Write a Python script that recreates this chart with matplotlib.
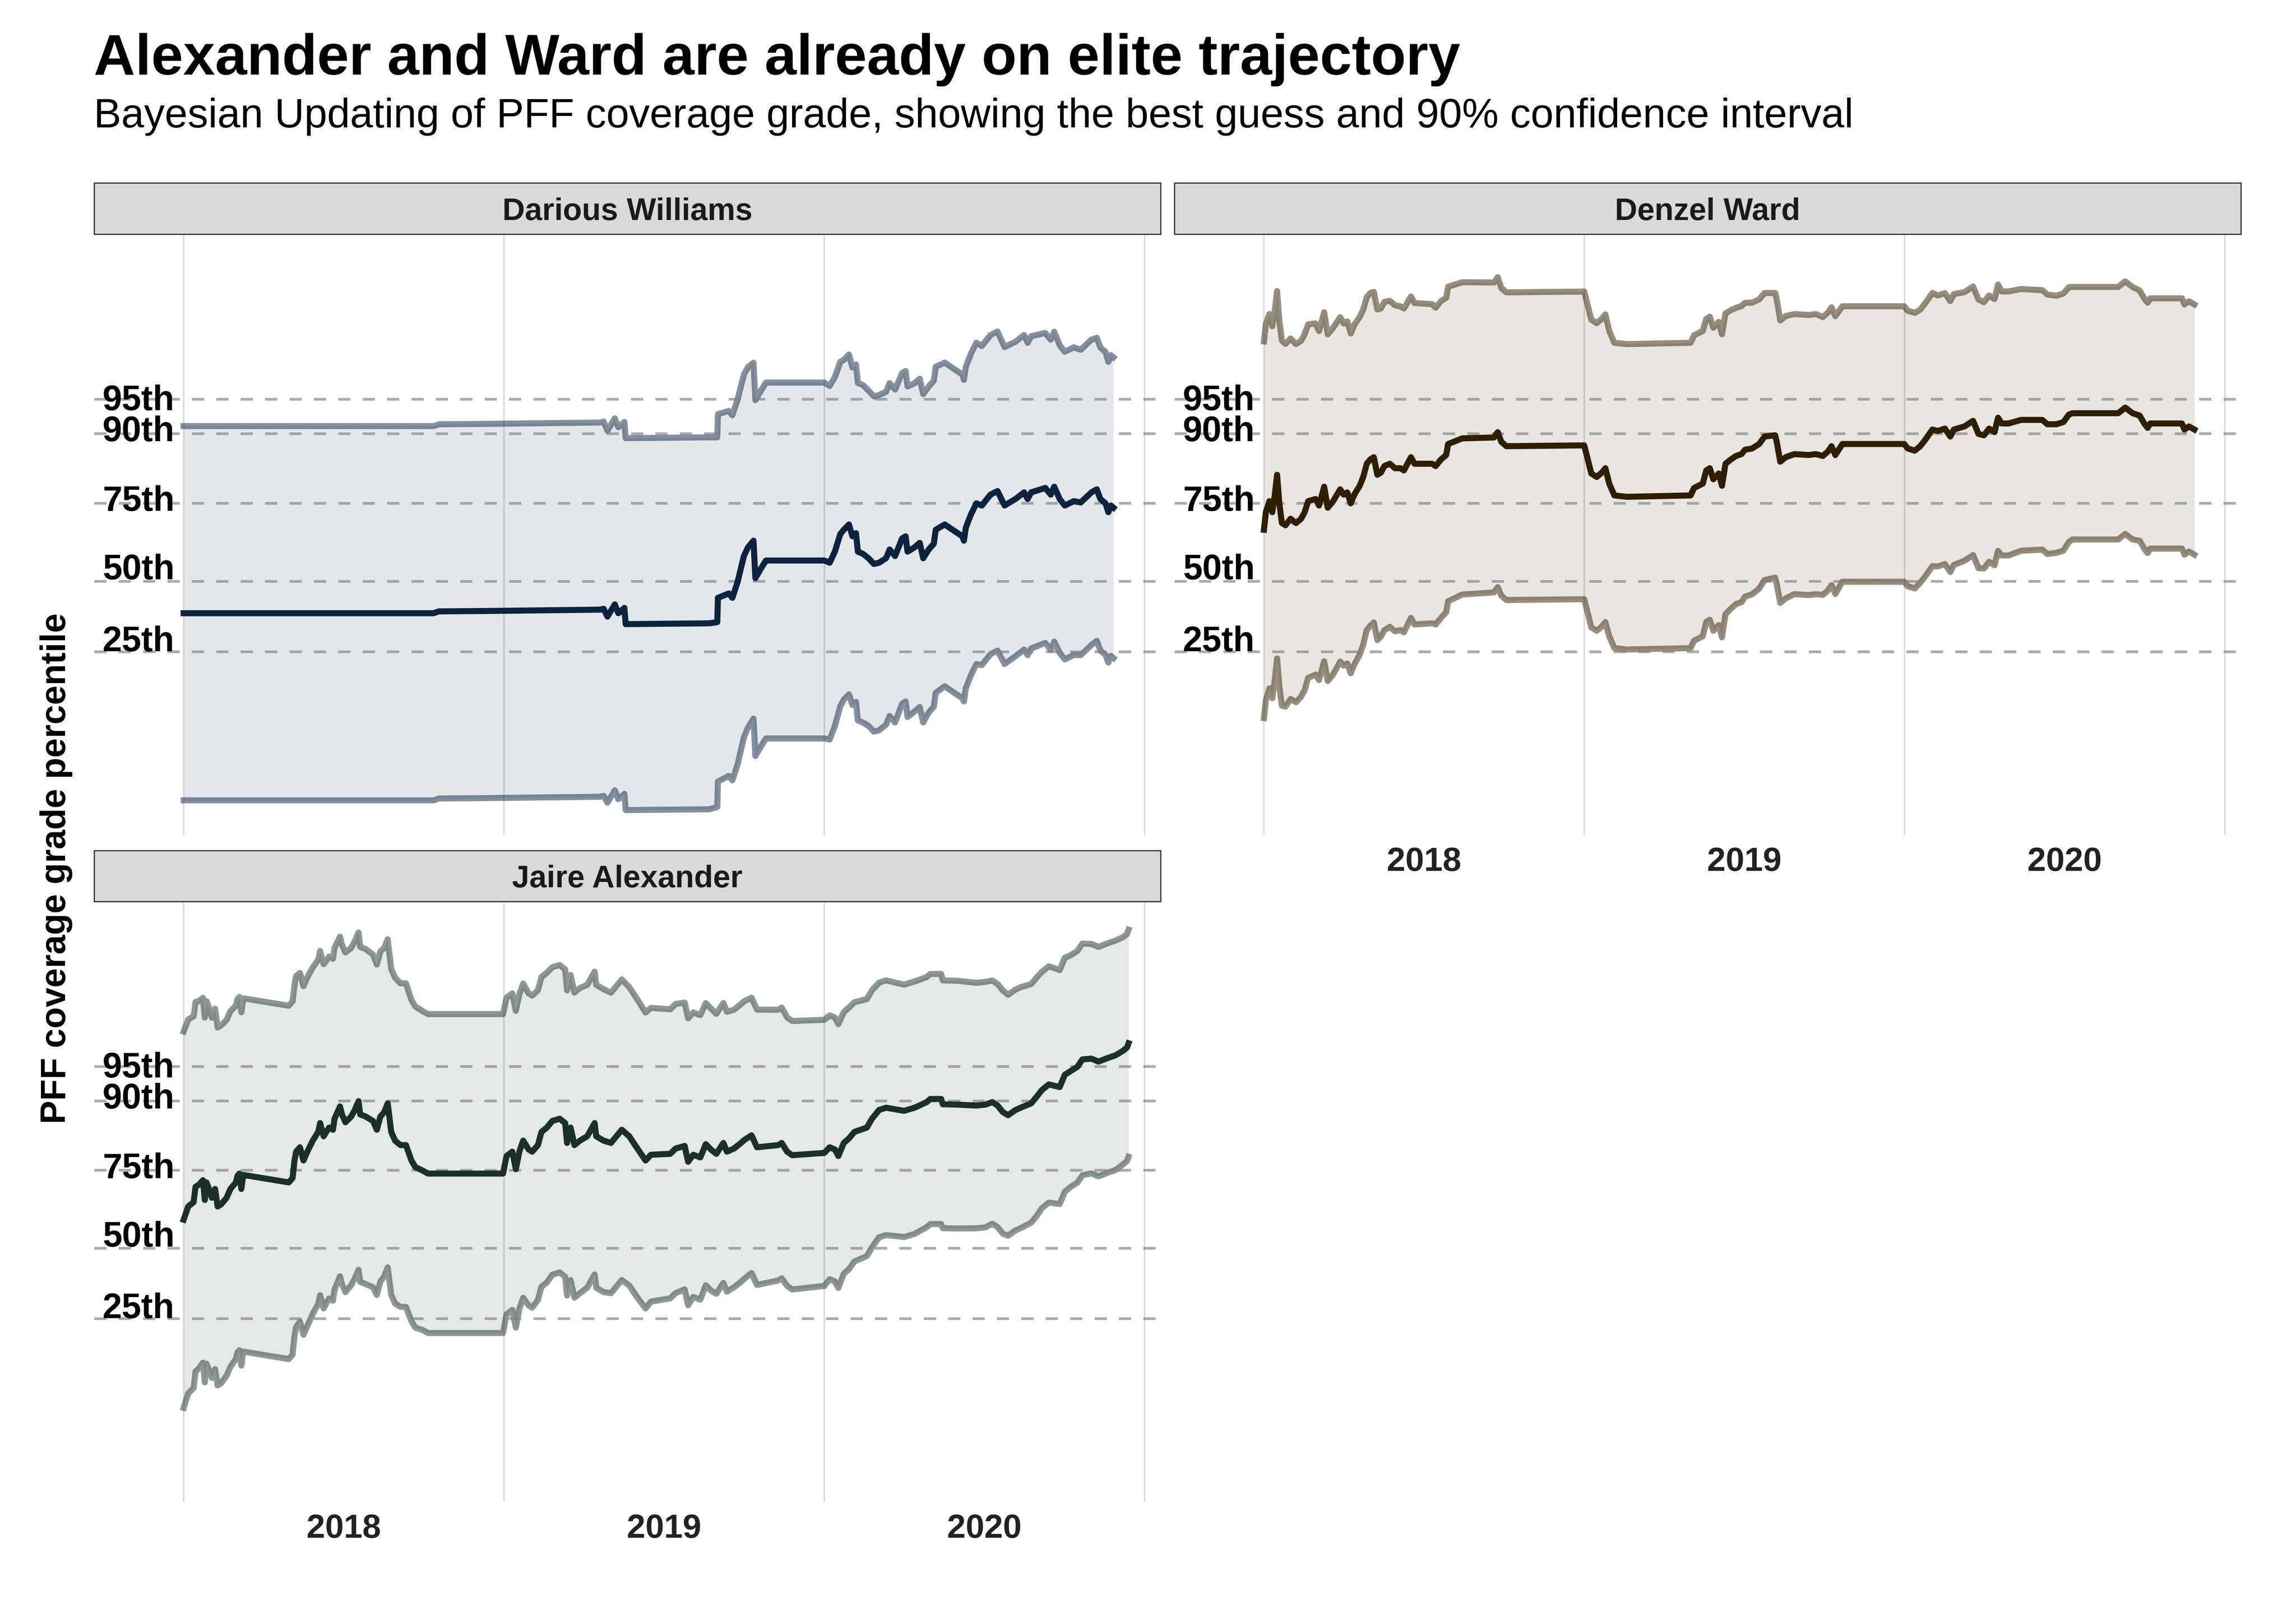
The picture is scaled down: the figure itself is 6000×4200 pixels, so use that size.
import matplotlib
matplotlib.use("Agg")
import matplotlib.pyplot as plt
import numpy as np

plt.rcParams['font.family'] = ['Liberation Sans', 'DejaVu Sans']

# x = season position (gridlines between seasons), y = PFF coverage grade
williams_x = [2017.500, 2018.280, 2018.297, 2018.432, 2018.800, 2018.811, 2018.823, 2018.846, 2018.857, 2018.876,
              2018.880, 2019.141, 2019.166, 2019.168, 2019.202, 2019.213, 2019.229, 2019.249, 2019.262, 2019.279,
              2019.285, 2019.301, 2019.318, 2019.500, 2019.517, 2019.533, 2019.550, 2019.561, 2019.577, 2019.588,
              2019.599, 2019.605, 2019.621, 2019.638, 2019.655, 2019.671, 2019.693, 2019.704, 2019.721, 2019.743,
              2019.754, 2019.760, 2019.782, 2019.798, 2019.809, 2019.826, 2019.842, 2019.848, 2019.876, 2019.931,
              2019.936, 2019.942, 2019.958, 2019.975, 2019.992, 2020.008, 2020.019, 2020.041, 2020.063, 2020.097,
              2020.124, 2020.135, 2020.146, 2020.190, 2020.207, 2020.218, 2020.235, 2020.251, 2020.279, 2020.301,
              2020.334, 2020.351, 2020.362, 2020.378, 2020.387, 2020.395, 2020.403]
williams_mean = [61.98, 61.98, 62.14, 62.17, 62.29, 62.37, 61.68, 62.75, 61.98, 62.44,
                 61.03, 61.10, 61.20, 63.32, 63.70, 63.32, 64.66, 66.96, 67.72, 68.30,
                 65.04, 65.81, 66.57, 66.57, 66.38, 67.34, 68.87, 69.25, 69.71, 68.68,
                 68.95, 67.34, 67.15, 66.77, 66.27, 66.38, 66.77, 67.53, 66.96, 68.49,
                 68.68, 67.34, 67.72, 68.11, 66.77, 67.53, 68.03, 69.25, 69.71, 68.68,
                 68.30, 69.44, 70.59, 71.55, 71.36, 71.93, 72.31, 72.62, 71.36, 71.93,
                 72.51, 71.93, 72.51, 72.89, 72.31, 73.00, 71.93, 71.36, 71.74, 71.63,
                 72.51, 72.77, 71.93, 71.55, 70.78, 71.36, 71.17]
williams_half = [16.3, 16.3, 16.3, 16.3, 16.3, 16.3, 16.2, 16.2, 16.2, 16.2,
                 16.2, 16.2, 16.1, 16.0, 15.9, 15.9, 15.9, 15.8, 15.7, 15.5,
                 15.5, 15.5, 15.5, 15.5, 15.4, 15.2, 15.0, 14.8, 14.8, 14.7,
                 14.7, 14.7, 14.7, 14.6, 14.6, 14.6, 14.5, 14.5, 14.5, 14.4,
                 14.4, 14.4, 14.3, 14.3, 14.3, 14.2, 14.2, 14.2, 14.1, 14.1,
                 14.0, 14.0, 14.0, 14.0, 13.9, 13.9, 13.9, 13.9, 13.8, 13.7,
                 13.7, 13.6, 13.6, 13.5, 13.5, 13.5, 13.4, 13.4, 13.4, 13.3,
                 13.3, 13.2, 13.2, 13.2, 13.1, 13.1, 13.1]

ward_x = [2017.500, 2017.506, 2017.517, 2017.526, 2017.534, 2017.541, 2017.548, 2017.556, 2017.567, 2017.583,
          2017.600, 2017.616, 2017.627, 2017.638, 2017.661, 2017.672, 2017.688, 2017.699, 2017.716, 2017.738,
          2017.749, 2017.760, 2017.771, 2017.782, 2017.799, 2017.810, 2017.821, 2017.832, 2017.843, 2017.854,
          2017.865, 2017.876, 2017.893, 2017.909, 2017.926, 2017.937, 2017.959, 2017.970, 2018.025, 2018.036,
          2018.053, 2018.069, 2018.075, 2018.119, 2018.218, 2018.230, 2018.241, 2018.257, 2018.500, 2018.511,
          2018.522, 2018.539, 2018.555, 2018.566, 2018.578, 2018.594, 2018.633, 2018.832, 2018.843, 2018.870,
          2018.881, 2018.892, 2018.903, 2018.920, 2018.930, 2018.941, 2018.958, 2018.974, 2018.991, 2019.002,
          2019.024, 2019.046, 2019.063, 2019.096, 2019.101, 2019.112, 2019.129, 2019.156, 2019.201, 2019.223,
          2019.245, 2019.261, 2019.272, 2019.284, 2019.306, 2019.499, 2019.510, 2019.532, 2019.549, 2019.565,
          2019.587, 2019.604, 2019.626, 2019.643, 2019.654, 2019.687, 2019.714, 2019.731, 2019.748, 2019.764,
          2019.781, 2019.792, 2019.803, 2019.825, 2019.864, 2019.930, 2019.946, 2019.974, 2019.996, 2020.013,
          2020.024, 2020.167, 2020.189, 2020.212, 2020.234, 2020.250, 2020.259, 2020.267, 2020.366, 2020.374,
          2020.388, 2020.405]
ward_mean = [69.25, 70.78, 71.74, 70.78, 72.31, 74.04, 71.55, 69.83, 69.64, 70.21,
             69.83, 70.21, 70.78, 71.74, 71.93, 71.36, 73.00, 71.17, 71.74, 72.77,
             72.31, 72.50, 71.55, 72.31, 73.08, 73.85, 75.00, 75.38, 75.57, 74.04,
             74.23, 74.80, 75.00, 74.61, 74.61, 74.42, 75.57, 75.00, 75.00, 74.80,
             75.38, 75.76, 76.72, 77.21, 77.29, 77.75, 76.91, 76.53, 76.60, 75.38,
             74.15, 73.85, 74.23, 74.61, 73.27, 72.24, 72.12, 72.24, 72.89, 73.27,
             74.42, 74.61, 73.65, 74.15, 73.08, 75.00, 75.38, 75.68, 75.84, 76.22,
             76.33, 76.72, 77.37, 77.48, 76.91, 75.18, 75.57, 75.84, 75.76, 75.84,
             75.68, 76.07, 76.53, 75.76, 76.72, 76.72, 76.33, 76.14, 76.53, 77.10,
             77.98, 77.86, 78.06, 77.37, 77.98, 78.25, 78.74, 77.60, 77.48, 78.06,
             77.75, 79.01, 78.51, 78.51, 78.82, 78.82, 78.44, 78.44, 78.63, 79.28,
             79.40, 79.40, 79.89, 79.40, 79.20, 78.44, 78.13, 78.51, 78.51, 77.98,
             78.25, 77.98]
ward_half = [16.4, 16.4, 16.3, 16.2, 16.1, 16.0, 15.9, 15.9, 15.8, 15.7,
             15.6, 15.5, 15.5, 15.4, 15.3, 15.2, 15.2, 15.1, 15.1, 15.0,
             14.9, 14.9, 14.8, 14.8, 14.7, 14.6, 14.5, 14.5, 14.4, 14.4,
             14.3, 14.3, 14.2, 14.2, 14.1, 14.1, 14.0, 14.0, 13.9, 13.8,
             13.8, 13.7, 13.7, 13.6, 13.5, 13.5, 13.4, 13.4, 13.4, 13.4,
             13.4, 13.4, 13.4, 13.4, 13.3, 13.3, 13.3, 13.3, 13.3, 13.3,
             13.2, 13.2, 13.2, 13.2, 13.2, 13.1, 13.0, 12.9, 12.9, 12.8,
             12.7, 12.6, 12.5, 12.4, 12.4, 12.3, 12.3, 12.2, 12.2, 12.2,
             12.1, 12.1, 12.1, 12.1, 12.0, 12.0, 12.0, 12.0, 11.9, 11.9,
             11.9, 11.8, 11.8, 11.8, 11.8, 11.7, 11.7, 11.7, 11.6, 11.6,
             11.6, 11.6, 11.5, 11.5, 11.4, 11.3, 11.3, 11.2, 11.2, 11.1,
             11.0, 11.0, 11.0, 11.0, 10.9, 10.9, 10.9, 10.9, 10.9, 10.9,
             10.9, 10.9]

alexander_x = [2017.500, 2017.514, 2017.531, 2017.537, 2017.548, 2017.560, 2017.566, 2017.571, 2017.579, 2017.588,
               2017.598, 2017.606, 2017.617, 2017.634, 2017.646, 2017.663, 2017.668, 2017.674, 2017.680, 2017.686,
               2017.828, 2017.840, 2017.846, 2017.851, 2017.863, 2017.874, 2017.886, 2017.903, 2017.920, 2017.926,
               2017.937, 2017.954, 2017.966, 2017.971, 2017.988, 2017.994, 2018.005, 2018.023, 2018.034, 2018.046,
               2018.051, 2018.068, 2018.091, 2018.103, 2018.114, 2018.126, 2018.137, 2018.148, 2018.160, 2018.177,
               2018.194, 2018.211, 2018.223, 2018.246, 2018.263, 2018.497, 2018.508, 2018.526, 2018.537, 2018.548,
               2018.560, 2018.577, 2018.588, 2018.606, 2018.617, 2018.634, 2018.651, 2018.674, 2018.691, 2018.697,
               2018.708, 2018.720, 2018.737, 2018.760, 2018.783, 2018.788, 2018.811, 2018.834, 2018.868, 2018.891,
               2018.914, 2018.942, 2018.959, 2019.019, 2019.036, 2019.064, 2019.075, 2019.091, 2019.113, 2019.130,
               2019.146, 2019.163, 2019.185, 2019.196, 2019.218, 2019.240, 2019.251, 2019.273, 2019.290, 2019.356,
               2019.367, 2019.384, 2019.400, 2019.500, 2019.517, 2019.533, 2019.544, 2019.561, 2019.577, 2019.594,
               2019.633, 2019.649, 2019.671, 2019.693, 2019.749, 2019.782, 2019.820, 2019.831, 2019.865, 2019.870,
               2019.914, 2019.975, 2020.003, 2020.025, 2020.041, 2020.058, 2020.074, 2020.097, 2020.113, 2020.146,
               2020.163, 2020.179, 2020.201, 2020.235, 2020.251, 2020.268, 2020.290, 2020.306, 2020.334, 2020.356,
               2020.384, 2020.411, 2020.433, 2020.445, 2020.450]
alexander_mean = [67.26, 68.41, 68.79, 70.13, 70.32, 70.70, 68.98, 70.51, 69.94, 69.17,
                  69.94, 68.41, 68.60, 69.17, 69.94, 70.51, 71.09, 71.28, 69.94, 71.16,
                  70.51, 70.89, 72.42, 73.19, 73.57, 72.42, 73.19, 74.15, 74.91, 75.68,
                  74.53, 75.29, 75.10, 76.06, 77.13, 76.44, 75.75, 76.25, 76.82, 77.59,
                  76.44, 76.25, 75.87, 75.10, 76.25, 76.63, 77.40, 74.91, 74.15, 73.76,
                  73.76, 72.42, 71.85, 71.54, 71.28, 71.28, 72.81, 73.19, 71.66, 73.19,
                  74.15, 73.38, 73.19, 73.76, 74.91, 75.29, 75.87, 76.06, 75.68, 73.95,
                  75.29, 73.76, 74.15, 74.53, 75.68, 74.53, 74.15, 73.95, 75.10, 74.53,
                  73.57, 72.42, 72.92, 73.00, 73.46, 73.69, 72.31, 72.92, 72.69, 73.84,
                  73.38, 73.00, 73.95, 73.19, 73.46, 73.95, 74.22, 74.61, 73.57, 73.76,
                  73.95, 73.19, 72.88, 73.08, 73.57, 73.38, 72.81, 73.95, 74.34, 74.91,
                  75.29, 76.06, 76.82, 77.02, 76.75, 77.02, 77.51, 77.78, 77.78, 77.32,
                  77.29, 77.21, 77.29, 77.51, 77.21, 76.63, 76.37, 76.82, 77.02, 77.40,
                  77.97, 78.55, 79.05, 78.82, 79.89, 80.19, 80.58, 81.23, 81.30, 81.04,
                  81.34, 81.61, 81.99, 82.26, 82.64]
alexander_half = [16.4, 16.3, 16.2, 16.1, 16.0, 15.9, 15.9, 15.8, 15.8, 15.7,
                  15.7, 15.6, 15.6, 15.5, 15.5, 15.4, 15.4, 15.4, 15.4, 15.4,
                  15.4, 15.4, 15.3, 15.3, 15.2, 15.2, 15.2, 15.1, 15.0, 15.0,
                  15.0, 14.9, 14.9, 14.9, 14.8, 14.8, 14.8, 14.7, 14.7, 14.7,
                  14.6, 14.6, 14.5, 14.4, 14.4, 14.3, 14.3, 14.2, 14.2, 14.1,
                  14.1, 14.0, 14.0, 13.9, 13.9, 13.9, 13.8, 13.8, 13.8, 13.7,
                  13.7, 13.6, 13.6, 13.5, 13.5, 13.5, 13.4, 13.4, 13.4, 13.3,
                  13.3, 13.3, 13.3, 13.2, 13.2, 13.2, 13.2, 13.1, 13.1, 13.0,
                  13.0, 12.9, 12.8, 12.6, 12.6, 12.5, 12.5, 12.4, 12.4, 12.3,
                  12.3, 12.2, 12.2, 12.2, 12.1, 12.1, 12.1, 12.0, 12.0, 11.8,
                  11.8, 11.7, 11.7, 11.6, 11.5, 11.5, 11.5, 11.4, 11.4, 11.3,
                  11.2, 11.2, 11.1, 11.1, 11.0, 11.0, 10.9, 10.9, 10.9, 10.8,
                  10.8, 10.7, 10.7, 10.6, 10.6, 10.6, 10.5, 10.5, 10.5, 10.4,
                  10.4, 10.3, 10.3, 10.2, 10.2, 10.1, 10.1, 10.1, 10.0, 10.0,
                  10.0, 10.0, 9.9, 9.9, 9.9]

players = ['Darious Williams', 'Denzel Ward', 'Jaire Alexander']
team_colors = ['#0c2340', '#311d00', '#1c302a']
season_ticks = [2018, 2019, 2020]
season_labels = ['2018', '2019', '2020']
season_bounds = [2017.5, 2018.5, 2019.5, 2020.5]
pct_labels = ['95th', '90th', '75th', '50th', '25th']
pct_grades = [80.63, 77.63, 71.57, 64.77, 58.63]
pct_label_grades = [79.67, 76.97, 70.90, 64.93, 58.67]

series = {
    'Darious Williams': (williams_x, williams_mean, williams_half),
    'Denzel Ward': (ward_x, ward_mean, ward_half),
    'Jaire Alexander': (alexander_x, alexander_mean, alexander_half),
}

W, H = 6000, 4200
fig = plt.figure(figsize=(20, 14), dpi=300)

def px_box(left, top, right, bottom):
    return [left / W, 1 - bottom / H, (right - left) / W, (bottom - top) / H]

# panel boxes in pixels: (left, strip top, panel top, right, panel bottom, show x labels)
layout = {
    'Darious Williams': (246, 478, 612, 3033, 2182, False),
    'Denzel Ward': (3069, 478, 612, 5856, 2182, True),
    'Jaire Alexander': (246, 2223, 2356, 3033, 3925, True),
}

xlim = (2017.2204, 2020.5502)
ylim = (42.67, 95.0)

for name, color in zip(players, team_colors):
    left, stop, ptop, right, pbot, show_x = layout[name]
    x, mean, half = series[name]
    x = np.array(x)
    mean = np.array(mean)
    half = np.array(half)
    lo = mean - half
    hi = mean + half

    ax = fig.add_axes(px_box(left, ptop, right, pbot))
    ax.set_xlim(*xlim)
    ax.set_ylim(*ylim)
    for s in ax.spines.values():
        s.set_visible(False)
    ax.set_yticks([])
    for b in season_bounds:
        ax.axvline(b, color='#d6d6d6', lw=0.85, zorder=0)

    ax.fill_between(x, lo, hi, color=color, alpha=0.11, lw=0, zorder=1)
    ax.plot(x, hi, color=color, alpha=0.5, lw=3.8, solid_joinstyle='round', zorder=2)
    ax.plot(x, lo, color=color, alpha=0.5, lw=3.8, solid_joinstyle='round', zorder=2)
    for g in pct_grades:
        ax.axhline(g, color='#7f7f7f', alpha=0.65, lw=1.7, dashes=(4.5, 4.5), zorder=3)
    ax.plot(x, mean, color=color, lw=3.8, solid_joinstyle='round', zorder=4)

    for lab, g in zip(pct_labels, pct_label_grades):
        ax.text(2017.4713, g, lab, ha='right', va='baseline', fontsize=22,
                fontweight='bold', color='black', zorder=6)

    if show_x:
        ax.set_xticks(season_ticks)
        ax.set_xticklabels(season_labels, fontweight='bold')
        ax.tick_params(axis='x', length=0, pad=7.5, labelsize=21, labelcolor='#222222')
    else:
        ax.set_xticks([])

    sax = fig.add_axes(px_box(left, stop, right, ptop))
    sax.set_facecolor('#d9d9d9')
    sax.set_xticks([])
    sax.set_yticks([])
    for s in sax.spines.values():
        s.set_color('#333333')
        s.set_linewidth(0.75)
    sax.text(0.5, 0.276, name, transform=sax.transAxes, ha='center', va='baseline',
             fontsize=19.5, fontweight='bold', color='#1a1a1a')

fig.text(245 / W, 1 - 195 / H, 'Alexander and Ward are already on elite trajectory',
         fontsize=36, fontweight='bold', ha='left', va='baseline')
fig.text(245 / W, 1 - 333 / H,
         'Bayesian Updating of PFF coverage grade, showing the best guess and 90% confidence interval',
         fontsize=25.8, ha='left', va='baseline')
fig.text(147 / W, 1 - 2270 / H, 'PFF coverage grade percentile', rotation=90,
         fontsize=22, fontweight='bold', ha='center', va='center')

fig.savefig('out.png', dpi=300, facecolor='white')
